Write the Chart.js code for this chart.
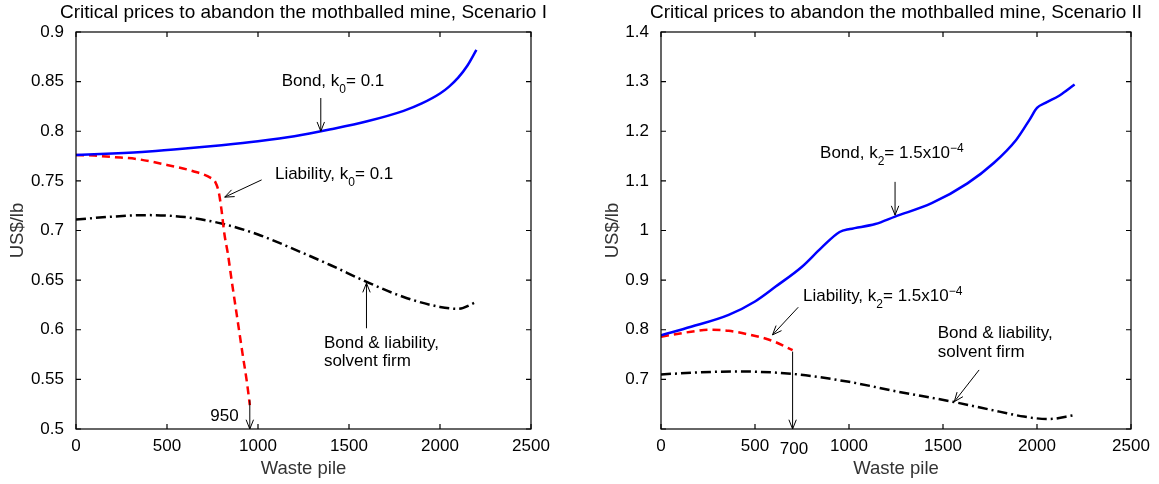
<!DOCTYPE html>
<html>
<head>
<meta charset="utf-8">
<script src="https://cdn.jsdelivr.net/npm/chart.js@4"></script>
<style>
  body { margin: 0; background: #fff; }
  #wrap { position: relative; width: 1159px; height: 484px; }
  canvas { position: absolute; top: 0; }
</style>
</head>
<body>
<div id="wrap">
  <canvas id="c1" width="580" height="484" style="left:0"></canvas>
  <canvas id="c2" width="579" height="484" style="left:580px"></canvas>
</div>
<script>
// ---- Scenario I data ----
const bondX1 = [0, 200, 400, 600, 800, 1000, 1200, 1400, 1600, 1800, 1900, 2000, 2050, 2100, 2150, 2200];
const bond1  = [0.776, 0.7775, 0.7795, 0.7825, 0.786, 0.790, 0.795, 0.802, 0.810, 0.8205, 0.828, 0.838, 0.845, 0.854, 0.866, 0.882];
const liabX1 = [0, 100, 200, 335, 500, 640, 740, 765, 785, 800, 815, 835, 855, 885, 915, 940, 955];
const liab1  = [0.776, 0.7755, 0.774, 0.772, 0.766, 0.760, 0.753, 0.749, 0.738, 0.720, 0.697, 0.676, 0.650, 0.613, 0.576, 0.546, 0.524];
const solvX1 = [0, 200, 400, 600, 800, 1000, 1200, 1400, 1600, 1800, 2000, 2100, 2200];
const solv1  = [0.711, 0.714, 0.7155, 0.7135, 0.707, 0.696, 0.681, 0.665, 0.648, 0.633, 0.623, 0.621, 0.628];

// ---- Scenario II data ----
const bondX2 = [0, 160, 360, 500, 610, 750, 850, 950, 1005, 1140, 1245, 1440, 1630, 1770, 1890, 1960, 2000, 2045, 2120, 2200];
const bond2  = [0.789, 0.806, 0.830, 0.857, 0.887, 0.927, 0.964, 0.997, 1.003, 1.013, 1.028, 1.055, 1.095, 1.136, 1.183, 1.223, 1.247, 1.257, 1.272, 1.294];
const liabX2 = [0, 160, 260, 360, 460, 590, 700];
const liab2  = [0.786, 0.796, 0.800, 0.798, 0.791, 0.778, 0.759];
const solvX2 = [0, 200, 400, 700, 1000, 1250, 1550, 1800, 1930, 2060, 2200];
const solv2  = [0.710, 0.714, 0.716, 0.711, 0.695, 0.676, 0.655, 0.635, 0.625, 0.620, 0.628];

const xTicks = [0, 500, 1000, 1500, 2000, 2500];

const FONT = '"Liberation Sans", Arial, Helvetica, sans-serif';

const pts = (xs, ys) => xs.map((x, i) => ({ x: x, y: ys[i] }));

// box round the plot and inward tick marks on all four sides
const boxTicks = {
  id: 'boxTicks',
  afterDatasetsDraw(chart) {
    const { ctx, chartArea: a, scales: { x, y } } = chart;
    ctx.save();
    ctx.strokeStyle = '#000';
    ctx.lineWidth = 1.2;
    ctx.beginPath();
    x.ticks.forEach(t => {
      const px = x.getPixelForValue(t.value);
      ctx.moveTo(px, a.bottom); ctx.lineTo(px, a.bottom - 5);
      ctx.moveTo(px, a.top); ctx.lineTo(px, a.top + 5);
    });
    y.ticks.forEach(t => {
      const py = y.getPixelForValue(t.value);
      ctx.moveTo(a.left, py); ctx.lineTo(a.left + 5, py);
      ctx.moveTo(a.right, py); ctx.lineTo(a.right - 5, py);
    });
    ctx.stroke();
    ctx.strokeRect(a.left, a.top, a.right - a.left, a.bottom - a.top);
    ctx.restore();
  }
};

// title centred over the plot box (may run wider than the box, as in the figure)
const plotTitle = {
  id: 'plotTitle',
  afterDraw(chart, args, opts) {
    const { ctx, chartArea: a } = chart;
    ctx.save();
    ctx.fillStyle = '#000';
    ctx.font = '19px ' + FONT;
    ctx.textAlign = 'center';
    ctx.textBaseline = 'middle';
    ctx.fillText(opts.text, (a.left + a.right) / 2, 13);
    ctx.restore();
  }
};

// text labels with sub/superscripts and arrows, placed in data units
function richText(ctx, px, py, parts, size) {
  let cx = px;
  parts.forEach(p => {
    const small = p.sub || p.sup;
    ctx.font = (small ? 12 : size) + 'px ' + FONT;
    const dy = p.sub ? 7 : p.sup ? -6 : 0;
    ctx.fillText(p.t, cx, py + dy);
    cx += ctx.measureText(p.t).width;
  });
}

const notes = {
  id: 'notes',
  afterDraw(chart, args, opts) {
    const { ctx, scales: { x, y } } = chart;
    ctx.save();
    ctx.fillStyle = '#000';
    ctx.strokeStyle = '#000';
    ctx.textBaseline = 'alphabetic';
    ctx.textAlign = 'left';
    (opts.texts || []).forEach(n => {
      richText(ctx, x.getPixelForValue(n.x), y.getPixelForValue(n.y), n.parts, n.size || 17);
    });
    ctx.lineWidth = 1;
    (opts.arrows || []).forEach(a => {
      const x1 = x.getPixelForValue(a.x1), y1 = y.getPixelForValue(a.y1);
      const x2 = x.getPixelForValue(a.x2), y2 = y.getPixelForValue(a.y2);
      const ang = Math.atan2(y2 - y1, x2 - x1);
      ctx.beginPath();
      ctx.moveTo(x1, y1); ctx.lineTo(x2, y2);
      ctx.moveTo(x2 - 10 * Math.cos(ang - 0.38), y2 - 10 * Math.sin(ang - 0.38));
      ctx.lineTo(x2, y2);
      ctx.lineTo(x2 - 10 * Math.cos(ang + 0.38), y2 - 10 * Math.sin(ang + 0.38));
      ctx.stroke();
    });
    ctx.restore();
  }
};

function makeChart(id, cfg) {
  return new Chart(document.getElementById(id), {
    type: 'line',
    data: {
      datasets: [
        { data: pts(cfg.bondX, cfg.bond), borderColor: '#0000ff', borderWidth: 2.5 },
        { data: pts(cfg.liabX, cfg.liab), borderColor: '#ff0000', borderWidth: 2.5, borderDash: [8, 5] },
        { data: pts(cfg.solvX, cfg.solv), borderColor: '#000000', borderWidth: 2.5, borderDash: [10, 4, 2, 4] }
      ]
    },
    options: {
      responsive: false,
      animation: false,
      events: [],
      layout: { padding: { left: 0, right: cfg.padRight, top: 32, bottom: 0 } },
      elements: { point: { radius: 0 }, line: { cubicInterpolationMode: 'monotone', fill: false } },
      plugins: {
        legend: { display: false },
        tooltip: { enabled: false },
        title: { display: false },
        plotTitle: { text: cfg.title },
        notes: { texts: cfg.texts, arrows: cfg.arrows }
      },
      scales: {
        x: {
          type: 'linear', min: 0, max: 2500,
          afterBuildTicks: s => { s.ticks = xTicks.map(v => ({ value: v })); },
          afterFit: s => { s.height = 55; },
          grid: { display: false }, border: { display: false },
          ticks: { color: '#000', padding: -1, maxRotation: 0, font: { family: FONT, size: 17 }, callback: v => String(v) },
          title: { display: true, text: 'Waste pile', color: '#333', font: { family: FONT, size: 18.5 }, padding: { top: 0, bottom: 4 } }
        },
        y: {
          min: cfg.yMin, max: cfg.yMax,
          afterBuildTicks: s => { s.ticks = cfg.yTicks.map(v => ({ value: v })); },
          afterFit: s => { s.width = cfg.yWidth; },
          grid: { display: false }, border: { display: false },
          ticks: {
            color: '#000', padding: 4, font: { family: FONT, size: 17 },
            callback: v => cfg.yHide.includes(v) ? '' : String(+v.toFixed(2))
          },
          title: { display: true, text: 'US$/lb', color: '#333', font: { family: FONT, size: 18.5 }, padding: { top: cfg.yTitlePad } }
        }
      }
    },
    plugins: [boxTicks, plotTitle, notes]
  });
}

makeChart('c1', {
  title: 'Critical prices to abandon the mothballed mine, Scenario I',
  bondX: bondX1, bond: bond1, liabX: liabX1, liab: liab1, solvX: solvX1, solv: solv1,
  yMin: 0.5, yMax: 0.9,
  yTicks: [0.5, 0.55, 0.6, 0.65, 0.7, 0.75, 0.8, 0.85, 0.9],
  yHide: [],
  yWidth: 76, padRight: 49, yTitlePad: 7,
  texts: [
    { x: 1130, y: 0.846, parts: [{ t: 'Bond, k' }, { t: '0', sub: true }, { t: '= 0.1' }] },
    { x: 1093, y: 0.7516, parts: [{ t: 'Liability, k' }, { t: '0', sub: true }, { t: '= 0.1' }] },
    { x: 1362, y: 0.582, parts: [{ t: 'Bond & liability,' }] },
    { x: 1362, y: 0.563, parts: [{ t: 'solvent firm' }] },
    { x: 738, y: 0.5084, parts: [{ t: '950' }] }
  ],
  arrows: [
    { x1: 1345, y1: 0.8335, x2: 1345, y2: 0.800 },
    { x1: 1020, y1: 0.751, x2: 817, y2: 0.7336 },
    { x1: 1596, y1: 0.6015, x2: 1596, y2: 0.647 },
    { x1: 955, y1: 0.529, x2: 955, y2: 0.5 }
  ]
});

makeChart('c2', {
  title: 'Critical prices to abandon the mothballed mine, Scenario II',
  bondX: bondX2, bond: bond2, liabX: liabX2, liab: liab2, solvX: solvX2, solv: solv2,
  yMin: 0.6, yMax: 1.4,
  yTicks: [0.6, 0.7, 0.8, 0.9, 1, 1.1, 1.2, 1.3, 1.4],
  yHide: [0.6],
  yWidth: 81, padRight: 28, yTitlePad: 22,
  texts: [
    { x: 846, y: 1.1455, parts: [{ t: 'Bond, k' }, { t: '2', sub: true }, { t: '= 1.5x10' }, { t: '\u22124', sup: true }] },
    { x: 755, y: 0.8585, parts: [{ t: 'Liability, k' }, { t: '2', sub: true }, { t: '= 1.5x10' }, { t: '\u22124', sup: true }] },
    { x: 1472, y: 0.783, parts: [{ t: 'Bond & liability,' }] },
    { x: 1472, y: 0.745, parts: [{ t: 'solvent firm' }] },
    { x: 632, y: 0.5496, parts: [{ t: '700' }] }
  ],
  arrows: [
    { x1: 1245, y1: 1.098, x2: 1245, y2: 1.031 },
    { x1: 730, y1: 0.8454, x2: 593, y2: 0.7896 },
    { x1: 1692, y1: 0.719, x2: 1560, y2: 0.655 },
    { x1: 700, y1: 0.756, x2: 700, y2: 0.6 }
  ]
});
</script>
</body>
</html>
